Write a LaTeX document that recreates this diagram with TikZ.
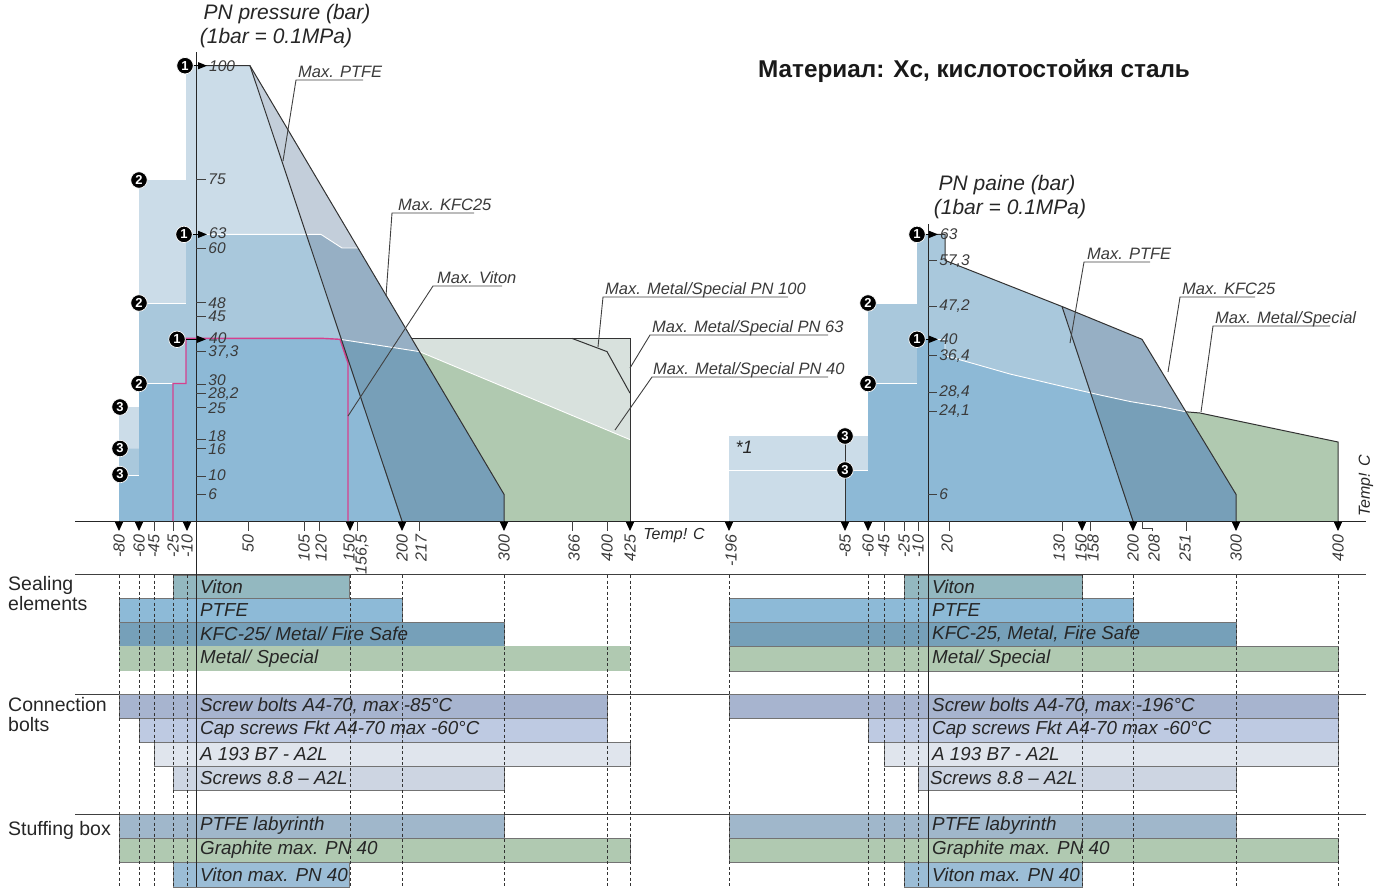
\documentclass[tikz,border=0pt]{standalone}
\usepackage{fontspec}
\setmainfont{Liberation Sans}
\usetikzlibrary{arrows.meta, positioning}
\definecolor{pnpale}{HTML}{CBDCE8}
\definecolor{pnlight}{HTML}{A9C8DC}
\definecolor{pnmid}{HTML}{8DB9D6}
\definecolor{kfcpale}{HTML}{C3CEDA}
\definecolor{kfclight}{HTML}{96AFC4}
\definecolor{kfcmid}{HTML}{779FB8}
\definecolor{metalgreen}{HTML}{B0C9B0}
\definecolor{metalgrey}{HTML}{D8E1DD}
\definecolor{vitonpink}{HTML}{D6408E}
\definecolor{labelgrey}{HTML}{3A3A3A}
\definecolor{vitonbar}{HTML}{93B8C0}
\definecolor{ptfebar}{HTML}{8DBAD7}
\definecolor{kfcbar}{HTML}{76A0B9}
\definecolor{metalbar}{HTML}{B0C9B1}
\definecolor{screwbar}{HTML}{A7B4CF}
\definecolor{capbar}{HTML}{BECAE2}
\definecolor{abar}{HTML}{E0E5ED}
\definecolor{eightbar}{HTML}{CDD5E2}
\definecolor{labbar}{HTML}{A0B7CB}
\definecolor{vitonpnbar}{HTML}{9BBDD6}
\tikzstyle{outline} = [draw=black!80, line width=1pt]
\tikzstyle{whiteedge} = [draw=white, line width=0.9pt]
\tikzstyle{vitonedge} = [draw=vitonpink, line width=1.4pt]
\tikzstyle{leader} = [draw=black!75, line width=0.9pt]
\tikzstyle{axisline} = [draw=black!85, line width=1pt]
\tikzstyle{tickline} = [draw=black!75, line width=0.9pt]
\tikzstyle{downtip} = [draw=black, line width=0.9pt, -{Triangle[length=9pt,width=8pt]}]
\tikzstyle{pointer} = [draw=black, line width=1pt, -{Triangle[length=9pt,width=7pt]}]
\tikzstyle{guide} = [draw=black!80, line width=0.7pt, dash pattern=on 3pt off 2.5pt]
\tikzstyle{barbox} = [draw=black!55, line width=0.6pt]
\tikzstyle{marker} = [circle, fill=black, draw=white, line width=0.7pt, text=white, inner sep=0pt, minimum size=16.5pt, font={\bfseries\fontsize{13}{13}\selectfont}]
\tikzstyle{xlbl} = [rotate=90, anchor=east, inner sep=1pt, text=labelgrey, font={\itshape\fontsize{16}{16}\selectfont}]
\tikzstyle{ylbl} = [anchor=west, inner sep=0pt, text=labelgrey, font={\itshape\fontsize{15.5}{15.5}\selectfont}]
\tikzstyle{leaderlbl} = [anchor=base west, inner sep=0pt, text=labelgrey, font={\itshape\fontsize{16.5}{16.5}\selectfont}]
\tikzstyle{bartxt} = [anchor=west, inner sep=0pt, text=black!85, font={\itshape\fontsize{18.8}{18.8}\selectfont}]
\tikzstyle{sectlbl} = [anchor=north west, align=left, inner sep=0pt, text=black!85, font={\fontsize{19.5}{20}\selectfont}]
\tikzstyle{headlbl} = [inner sep=0pt, text=black!85, font={\itshape\fontsize{21}{21}\selectfont}]
\tikzset{
  font={\fontsize{16pt}{17}\selectfont}}

\begin{document}
\begin{tikzpicture}[x=1pt, y=-1pt]
    \useasboundingbox (0,0) rectangle (1387,887);

    % left chart: pressure classes
    \fill[pnpale] (119,521) -- (119,407) -- (139,407) -- (139,180) -- (186,180) -- (186,65.7) -- (250,65.7) -- (504,494.3) -- (504,521) -- cycle;
    \fill[pnlight] (119,521) -- (119,448.7) -- (139,448.7) -- (139,303) -- (186,303) -- (186,234.4) -- (321,234.4) -- (342,248) -- (358,248) -- (504,494.3) -- (504,521) -- cycle;
    \fill[pnmid] (119,521) -- (119,475) -- (139,475) -- (139,383.5) -- (186,383.5) -- (186,338.4) -- (323,338.4) -- (340,339.3) -- (419.4,351.6) -- (504,494.3) -- (504,521) -- cycle;
    \fill[metalgrey] (411.6,338.4) -- (630,338.4) -- (630,439.6) -- (419.4,351.6) -- cycle;
    \fill[metalgreen] (419.4,351.6) -- (630,439.6) -- (630,521) -- (504,521) -- (504,494.3) -- cycle;
    \begin{scope}
        \clip (250,65.7) -- (504,494.3) -- (504,521) -- (402,521) -- cycle;
        \fill[kfcpale] (240,60) rectangle (520,525);
        \fill[kfclight] (300,234.4) -- (321,234.4) -- (342,248) -- (600,248) -- (600,525) -- (300,525) -- cycle;
        \fill[kfcmid] (300,338.4) -- (323,338.4) -- (340,339.3) -- (419.4,351.6) -- (600,440) -- (600,525) -- (300,525) -- cycle;
    \end{scope}

    \draw[whiteedge] (119,475) -- (139,475);
    \draw[whiteedge] (139,383.5) -- (173,383.5);
    \draw[whiteedge] (139,303) -- (186,303);
    \draw[whiteedge] (186,234.4) -- (321,234.4) -- (342,248) -- (358,248);
    \draw[whiteedge] (340,339.3) -- (419.4,351.6) -- (630,439.6);
    \draw[vitonedge] (173,521) -- (173,383.5) -- (186,383.5) -- (186,338.4) -- (323,338.4) -- (340,339.3) -- (348,363) -- (348,521);

    \draw[outline] (196,65.7) -- (250,65.7) -- (504,494.3) -- (504,521);
    \draw[outline] (250,65.7) -- (402,521);
    \draw[outline] (411.6,338.4) -- (630,338.4) -- (630,521);
    \draw[outline] (572,338.4) -- (607,351.6) -- (630,393.1);

    % right chart: pressure classes
    \fill[pnpale] (729,436) rectangle (868,521);
    \fill[pnlight] (868,521) -- (868,304) -- (917,304) -- (917,234.4) -- (945,234.4) -- (945,260.4) -- (1062,306.5) -- (1142,339.3) -- (1236,494.3) -- (1236,521) -- cycle;
    \fill[pnmid] (845,521) -- (845,470) -- (868,470) -- (868,383.5) -- (917,383.5) -- (917,339.3) -- (945,339.3) -- (945,355.7) -- (975,364) -- (1010,374) -- (1063,386.5) -- (1100,395) -- (1130,401.5) -- (1160,406.5) -- (1186,411.8) -- (1236,494.3) -- (1236,521) -- cycle;
    \fill[metalgreen] (1186,411.8) -- (1200,413) -- (1338,442) -- (1338,521) -- (1236,521) -- (1236,494.3) -- cycle;
    \begin{scope}
        \clip (1062,306.5) -- (1142,339.3) -- (1236,494.3) -- (1236,521) -- (1133,521) -- cycle;
        \fill[kfclight] (1050,300) rectangle (1250,525);
        \fill[kfcmid] (945,355.7) -- (975,364) -- (1010,374) -- (1063,386.5) -- (1100,395) -- (1130,401.5) -- (1160,406.5) -- (1186,411.8) -- (1300,450) -- (1300,525) -- (945,525) -- cycle;
    \end{scope}

    \draw[whiteedge] (729,470) -- (868,470);
    \draw[whiteedge] (868,383.5) -- (917,383.5);
    \draw[whiteedge] (928,339.3) -- (945,339.3) -- (945,355.7) -- (975,364) -- (1010,374) -- (1063,386.5) -- (1100,395) -- (1130,401.5) -- (1160,406.5) -- (1186,411.8);

    \draw[outline] (928,234.4) -- (945,234.4) -- (945,260.4) -- (1062,306.5) -- (1142,339.3) -- (1236,494.3) -- (1236,521);
    \draw[outline] (1062,306.5) -- (1133,521);
    \draw[outline] (1186,411.8) -- (1200,413) -- (1338,442) -- (1338,521);
    \draw[outline] (845,436) -- (845,521);

    % headings
    \node[headlbl] (headleft) at (287,14) {PN pressure (bar)};
    \node[headlbl] (unitleft) at (276,38) {(1bar = 0.1MPa)};
    \node[headlbl] (headright) at (1007,185) {PN paine (bar)};
    \node[headlbl] (unitright) at (1010,209) {(1bar = 0.1MPa)};
    \node[inner sep=0pt, text=black!90, font={\bfseries\fontsize{24.3}{24.3}\selectfont}] (material) at (974,71) {Материал: Xc, кислотостойкя сталь};
    \node[headlbl, font={\itshape\fontsize{18}{18}\selectfont}] (starone) at (744,447) {*1};

    % leaders, left
    \coordinate (ulptfe) at (296,80);
    \coordinate (ulkfc) at (392,213);
    \coordinate (ulviton) at (433,286);
    \coordinate (ulhundred) at (603,297);
    \coordinate (ulsixtythree) at (650,335);
    \coordinate (ulforty) at (652,377);
    \node[leaderlbl] (lblptfe) at ([xshift=2pt, yshift=3pt]ulptfe) {Max. PTFE};
    \node[leaderlbl] (lblkfc) at ([xshift=6pt, yshift=3pt]ulkfc) {Max. KFC25};
    \node[leaderlbl] (lblviton) at ([xshift=4pt, yshift=3pt]ulviton) {Max. Viton};
    \node[leaderlbl] (lblhundred) at ([xshift=2pt, yshift=3pt]ulhundred) {Max. Metal/Special PN 100};
    \node[leaderlbl] (lblsixtythree) at ([xshift=2pt, yshift=3pt]ulsixtythree) {Max. Metal/Special PN 63};
    \node[leaderlbl] (lblforty) at ([xshift=1pt, yshift=3pt]ulforty) {Max. Metal/Special PN 40};
    \draw[leader] (283,161) -- (ulptfe) -- ++(67,0);
    \draw[leader] (386,296) -- (ulkfc) -- ++(82,0);
    \draw[leader] (348,416) -- (ulviton) -- ++(69,0);
    \draw[leader] (598,347) -- (ulhundred) -- ++(185,0);
    \draw[leader] (630,368) -- (ulsixtythree) -- ++(178,0);
    \draw[leader] (615,430) -- (ulforty) -- ++(176,0);

    % leaders, right
    \coordinate (rulptfe) at (1084,262);
    \coordinate (rulkfc) at (1180,297);
    \coordinate (rulmetal) at (1213,326);
    \node[leaderlbl] (rlblptfe) at ([xshift=3pt, yshift=3pt]rulptfe) {Max. PTFE};
    \node[leaderlbl] (rlblkfc) at ([xshift=2pt, yshift=3pt]rulkfc) {Max. KFC25};
    \node[leaderlbl] (rlblmetal) at ([xshift=2pt, yshift=3pt]rulmetal) {Max. Metal/Special};
    \draw[leader] (1070,343) -- (rulptfe) -- ++(66,0);
    \draw[leader] (1168,372) -- (rulkfc) -- ++(75,0);
    \draw[leader] (1201,412) -- (rulmetal) -- ++(117,0);

    % sections and bars
    \draw[tickline] (75,574.5) -- (1366,574.5);
    \draw[tickline] (75,694) -- (1366,694);
    \draw[tickline] (75,814) -- (1366,814);
    \node[sectlbl] (sealing) at (8,576) {Sealing\\elements};
    \node[sectlbl] (bolts) at (8,697) {Connection\\bolts};
    \node[sectlbl, anchor=west] (stuffing) at (8,830) {Stuffing box};

    \filldraw[barbox, fill=vitonbar] (173,575) rectangle (349,598);
    \filldraw[barbox, fill=ptfebar] (119,598) rectangle (402,622);
    \filldraw[barbox, fill=kfcbar] (119,622) rectangle (504,646);
    \filldraw[barbox, fill=metalbar, draw=none] (119,646) rectangle (630,671);
    \filldraw[barbox, fill=screwbar] (119,694) rectangle (607,718);
    \filldraw[barbox, fill=capbar] (139,718) rectangle (607,742);
    \filldraw[barbox, fill=abar] (154,742) rectangle (630,766);
    \filldraw[barbox, fill=eightbar] (173,766) rectangle (504,790);
    \filldraw[barbox, fill=labbar] (119,814) rectangle (504,838);
    \filldraw[barbox, fill=metalbar] (119,838) rectangle (630,862);
    \filldraw[barbox, fill=vitonpnbar] (173,862) rectangle (349,887);

    \filldraw[barbox, fill=vitonbar] (904,575) rectangle (1082,598);
    \filldraw[barbox, fill=ptfebar] (729,598) rectangle (1133,622);
    \filldraw[barbox, fill=kfcbar] (729,622) rectangle (1236,646);
    \filldraw[barbox, fill=metalbar] (729,646) rectangle (1338,671);
    \filldraw[barbox, fill=screwbar] (729,694) rectangle (1338,718);
    \filldraw[barbox, fill=capbar] (868,718) rectangle (1338,742);
    \filldraw[barbox, fill=abar] (884,742) rectangle (1338,766);
    \filldraw[barbox, fill=eightbar] (918,766) rectangle (1236,790);
    \filldraw[barbox, fill=labbar] (729,814) rectangle (1236,838);
    \filldraw[barbox, fill=metalbar] (729,838) rectangle (1338,862);
    \filldraw[barbox, fill=vitonpnbar] (904,862) rectangle (1082,887);

    \node[bartxt] (vitonleft) at (200,586.5) {Viton};
    \node[bartxt] (ptfeleft) at (200,610) {PTFE};
    \node[bartxt] (kfcleft) at (200,634) {KFC-25/ Metal/ Fire Safe};
    \node[bartxt] (metalleft) at (200,658.5) {Metal/ Special};
    \node[bartxt] (screwleft) at (200,706) {Screw bolts A4-70, max -85°C};
    \node[bartxt] (capleft) at (200,730) {Cap screws Fkt A4-70 max -60°C};
    \node[bartxt] (aleft) at (200,754) {A 193 B7 - A2L};
    \node[bartxt] (eightleft) at (200,778) {Screws 8.8 – A2L};
    \node[bartxt] (lableft) at (200,826) {PTFE labyrinth};
    \node[bartxt] (graphleft) at (200,850) {Graphite max. PN 40};
    \node[bartxt] (vitonpnleft) at (200,874.5) {Viton max. PN 40};

    \node[bartxt] (vitonright) at (932,586.5) {Viton};
    \node[bartxt] (ptferight) at (932,610) {PTFE};
    \node[bartxt] (kfcright) at (932,634) {KFC-25, Metal, Fire Safe};
    \node[bartxt] (metalright) at (932,658.5) {Metal/ Special};
    \node[bartxt] (screwright) at (932,706) {Screw bolts A4-70, max -196°C};
    \node[bartxt] (capright) at (932,730) {Cap screws Fkt A4-70 max -60°C};
    \node[bartxt] (aright) at (932,754) {A 193 B7 - A2L};
    \node[bartxt] (eightright) at (930,778) {Screws 8.8 – A2L};
    \node[bartxt] (labright) at (932,826) {PTFE labyrinth};
    \node[bartxt] (graphright) at (932,850) {Graphite max. PN 40};
    \node[bartxt] (vitonpnright) at (932,874.5) {Viton max. PN 40};

    % guide lines
    \draw[guide] (119,575) -- (119,887);
    \draw[guide] (139,575) -- (139,887);
    \draw[guide] (154,575) -- (154,887);
    \draw[guide] (173,575) -- (173,887);
    \draw[guide] (187,575) -- (187,887);
    \draw[guide] (350,575) -- (350,887);
    \draw[guide] (402,575) -- (402,887);
    \draw[guide] (504,575) -- (504,887);
    \draw[guide] (607,575) -- (607,887);
    \draw[guide] (630,575) -- (630,887);
    \draw[guide] (729,575) -- (729,887);
    \draw[guide] (868,575) -- (868,887);
    \draw[guide] (884,575) -- (884,887);
    \draw[guide] (904,575) -- (904,887);
    \draw[guide] (918,575) -- (918,887);
    \draw[guide] (1082,575) -- (1082,887);
    \draw[guide] (1133,575) -- (1133,887);
    \draw[guide] (1236,575) -- (1236,887);
    \draw[guide] (1338,575) -- (1338,887);

    % axes
    \draw[axisline] (196,52) -- (196,887);
    \draw[axisline] (928,224) -- (928,887);
    \draw[axisline] (75,521) -- (1366,521);

    % temperature ticks, left
    \draw[downtip] (119,521) -- (119,531) node[xlbl] (tlm80) at (119,533) {-80};
    \draw[downtip] (139,521) -- (139,531) node[xlbl] (tlm60) at (139,533) {-60};
    \draw[tickline] (154,521) -- (154,531) node[xlbl] (tlm45) at (154,533) {-45};
    \draw[tickline] (173,521) -- (173,531) node[xlbl] (tlm25) at (173,533) {-25};
    \draw[downtip] (187,521) -- (187,531) node[xlbl] (tlm10) at (187,533) {-10};
    \draw[tickline] (248,521) -- (248,531) node[xlbl] (tl50) at (248,533) {50};
    \draw[tickline] (304,521) -- (304,531) node[xlbl] (tl105) at (304,533) {105};
    \draw[tickline] (319,521) -- (319,531) node[xlbl] (tl120) at (321,533) {120};
    \draw[downtip] (350,521) -- (350,531) node[xlbl] (tl150) at (349,533) {150};
    \draw[tickline] (357,521) -- (357,531) node[xlbl] (tl156) at (362,533) {156,5};
    \draw[downtip] (402,521) -- (402,531) node[xlbl] (tl200) at (402,533) {200};
    \draw[tickline] (419,521) -- (419,531) node[xlbl] (tl217) at (421,533) {217};
    \draw[downtip] (504,521) -- (504,531) node[xlbl] (tl300) at (504,533) {300};
    \draw[tickline] (572,521) -- (572,531) node[xlbl] (tl366) at (574,533) {366};
    \draw[tickline] (607,521) -- (607,531) node[xlbl] (tl400) at (607,533) {400};
    \draw[downtip] (630,521) -- (630,531) node[xlbl] (tl425) at (630,533) {425};
    \node[headlbl, font={\itshape\fontsize{16}{16}\selectfont}] (templeft) at (674,536) {Temp! C};

    % temperature ticks, right
    \draw[downtip] (729,521) -- (729,531) node[xlbl] (trm196) at (731,533) {-196};
    \draw[downtip] (845,521) -- (845,531) node[xlbl] (trm85) at (845,533) {-85};
    \draw[downtip] (868,521) -- (868,531) node[xlbl] (trm60) at (868,533) {-60};
    \draw[tickline] (884,521) -- (884,531) node[xlbl] (trm45) at (884,533) {-45};
    \draw[tickline] (904,521) -- (904,531) node[xlbl] (trm25) at (904,533) {-25};
    \draw[tickline] (918,521) -- (918,531) node[xlbl] (trm10) at (918,533) {-10};
    \draw[tickline] (949,521) -- (949,531) node[xlbl] (tr20) at (947,533) {20};
    \draw[tickline] (1062,521) -- (1062,531) node[xlbl] (tr130) at (1059,533) {130};
    \draw[downtip] (1082,521) -- (1082,531) node[xlbl] (tr150) at (1081,533) {150};
    \draw[tickline] (1090,521) -- (1090,531) node[xlbl] (tr158) at (1093,533) {158};
    \draw[downtip] (1133,521) -- (1133,531) node[xlbl] (tr200) at (1133,533) {200};
    \draw[tickline] (1142,521) -- (1142,528) -- (1152,528) -- (1152,531) node[xlbl] (tr208) at (1154,533) {208};
    \draw[tickline] (1186,521) -- (1186,531) node[xlbl] (tr251) at (1185,533) {251};
    \draw[downtip] (1236,521) -- (1236,531) node[xlbl] (tr300) at (1236,533) {300};
    \draw[downtip] (1338,521) -- (1338,531) node[xlbl] (tr400) at (1338,533) {400};
    \node[headlbl, rotate=90, font={\itshape\fontsize{16}{16}\selectfont}] (tempright) at (1366,486) {Temp! C};

    % pressure ticks, left
    \node[ylbl] (p100) at (209,65.7) {100};
    \draw[tickline] (196,179.7) -- (206,179.7) node[ylbl] (p75) at (208,179.7) {75};
    \node[ylbl] (p63) at (209,233.5) {63};
    \draw[tickline] (196,248) -- (206,248) node[ylbl] (p60) at (208,248) {60};
    \draw[tickline] (196,302.8) -- (206,302.8) node[ylbl] (p48) at (208,302.8) {48};
    \draw[tickline] (196,316.5) -- (206,316.5) node[ylbl] (p45) at (208,316.5) {45};
    \node[ylbl] (p40) at (209,338) {40};
    \draw[tickline] (196,351.6) -- (206,351.6) node[ylbl] (p373) at (208,352.5) {37,3};
    \draw[tickline] (196,384.9) -- (206,384.9) node[ylbl] (p30) at (208,380) {30};
    \draw[tickline] (196,393.1) -- (206,393.1) node[ylbl] (p282) at (208,394.5) {28,2};
    \draw[tickline] (196,407.7) -- (206,407.7) node[ylbl] (p25) at (208,408) {25};
    \draw[tickline] (196,439.6) -- (206,439.6) node[ylbl] (p18) at (208,436) {18};
    \draw[tickline] (196,448.7) -- (206,448.7) node[ylbl] (p16) at (208,449.5) {16};
    \draw[tickline] (196,476.1) -- (206,476.1) node[ylbl] (p10) at (208,475) {10};
    \draw[tickline] (196,494.3) -- (206,494.3) node[ylbl] (p6) at (208,494.3) {6};

    % pressure ticks, right
    \node[ylbl] (q63) at (940,234.4) {63};
    \draw[tickline] (928,260.4) -- (937,260.4) node[ylbl] (q573) at (939,261) {57,3};
    \draw[tickline] (928,306.5) -- (937,306.5) node[ylbl] (q472) at (939,306.5) {47,2};
    \node[ylbl] (q40) at (940,339.3) {40};
    \draw[tickline] (928,355.7) -- (937,355.7) node[ylbl] (q364) at (939,356.5) {36,4};
    \draw[tickline] (928,392.2) -- (937,392.2) node[ylbl] (q284) at (939,392.2) {28,4};
    \draw[tickline] (928,411.8) -- (937,411.8) node[ylbl] (q241) at (939,411.5) {24,1};
    \draw[tickline] (928,494.3) -- (937,494.3) node[ylbl] (q6) at (939,494.3) {6};

    % class markers, left
    \node[marker] (lone) at (185,65.7) {1};
    \node[marker] (ltwo) at (184,234.4) {1};
    \node[marker] (lthree) at (177,339.3) {1};
    \draw[pointer] (lone) -- (207,65.7);
    \draw[pointer] (ltwo) -- (207,234.4);
    \draw[pointer] (lthree) -- (206,339.3);
    \node[marker] (lfour) at (139,180) {2};
    \node[marker] (lfive) at (139,303) {2};
    \node[marker] (lsix) at (139,383.5) {2};
    \node[marker] (lseven) at (120,407) {3};
    \node[marker] (leight) at (120,448.5) {3};
    \node[marker] (lnine) at (120,474.5) {3};

    % class markers, right
    \node[marker] (rone) at (917,234.4) {1};
    \node[marker] (rtwo) at (917,339.3) {1};
    \draw[pointer] (rone) -- (938,234.4);
    \draw[pointer] (rtwo) -- (938,339.3);
    \node[marker] (rthree) at (868,303) {2};
    \node[marker] (rfour) at (868,383.5) {2};
    \node[marker] (rfive) at (845,436) {3};
    \node[marker] (rsix) at (845,470) {3};
\end{tikzpicture}
\end{document}
